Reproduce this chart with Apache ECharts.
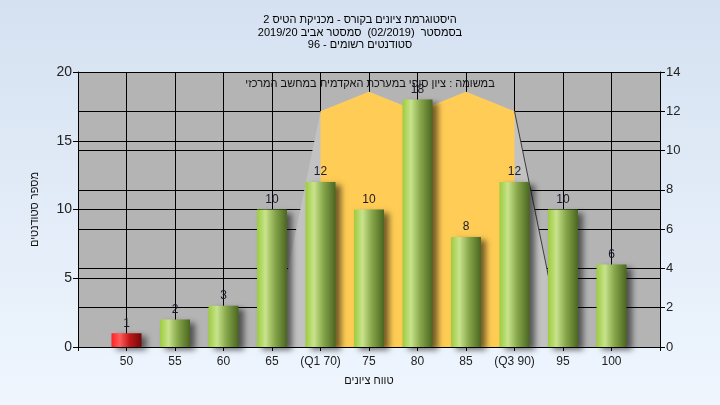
<!DOCTYPE html>
<html>
<head>
<meta charset="utf-8">
<script src="https://cdn.jsdelivr.net/npm/echarts@6/dist/echarts.min.js"></script>
<style>html,body{margin:0;padding:0;}#c{width:720px;height:405px;}</style>
</head>
<body>
<div id="c"></div>
<script>
const titleLines = ['היסטוגרמת ציונים בקורס - מכניקת הטיס 2', 'בסמסטר  (02/2019)  סמסטר אביב 2019/20', 'סטודנטים רשומים - 96'];
const noteText = 'במשומה : ציון סופי במערכת האקדמית במחשב המרכזי';
const xName = 'טווח ציונים';
const yName = 'מספר סטודנטים';
const categories = ['50', '55', '60', '65', '(Q1 70)', '75', '80', '85', '(Q3 90)', '95', '100'];
const counts = [1, 2, 3, 10, 12, 10, 18, 8, 12, 10, 6];
const failFlags = [true, false, false, false, false, false, false, false, false, false, false];
const whiskerArea = [null, null, null, 0, 12, 13, 12, 13, 12, 0, null];
const boxArea = [null, null, null, null, 12, 13, 12, 13, 12, null, null];
const whiskerLine = [null, null, null, null, null, null, null, null, 12, 0, null];
const leftTicks = [0, 5, 10, 15, 20];
const rightTicks = [0, 2, 4, 6, 8, 10, 12, 14];

const FONT = '"Liberation Sans", "DejaVu Sans", Arial, sans-serif';
const pad = arr => [null].concat(arr, [null]);
const axisCats = [''].concat(categories, ['']);

const greenGrad = new echarts.graphic.LinearGradient(0, 0, 1, 0, [
  {offset: 0, color: '#9ccc3e'},
  {offset: 0.28, color: '#c8e38c'},
  {offset: 0.6, color: '#86a64a'},
  {offset: 1, color: '#4a6620'}
]);
const redGrad = new echarts.graphic.LinearGradient(0, 0, 1, 0, [
  {offset: 0, color: '#ff2222'},
  {offset: 0.28, color: '#ff5c5c'},
  {offset: 0.6, color: '#c01818'},
  {offset: 1, color: '#760808'}
]);

const barData = pad(counts.map((v, i) => ({
  value: v,
  itemStyle: {color: failFlags[i] ? redGrad : greenGrad}
})));

const chart = echarts.init(document.getElementById('c'), null, {renderer: 'canvas'});
chart.setOption({
  animation: false,
  backgroundColor: new echarts.graphic.LinearGradient(0, 0, 0, 1, [
    {offset: 0, color: '#d5e1f1'},
    {offset: 1, color: '#eff6fe'}
  ]),
  title: {
    text: titleLines.join('\n'),
    left: 'center',
    top: 9,
    textStyle: {fontFamily: FONT, fontSize: 11, fontWeight: 'normal', color: '#000', lineHeight: 12.5}
  },
  graphic: [{
    type: 'text',
    x: 370,
    y: 78,
    z: 1,
    style: {text: noteText, font: '11px ' + FONT, fill: '#111', textAlign: 'center'}
  }],
  grid: {left: 78, right: 60, top: 72, bottom: 58, show: true, backgroundColor: '#b4b4b4', borderWidth: 0},
  xAxis: {
    type: 'category',
    data: axisCats,
    boundaryGap: false,
    name: xName,
    nameLocation: 'middle',
    nameGap: 28,
    nameTextStyle: {fontFamily: FONT, fontSize: 11, color: '#111'},
    axisLine: {lineStyle: {color: '#000', width: 1}},
    axisTick: {show: true, length: 4, lineStyle: {color: '#000'}},
    axisLabel: {fontFamily: FONT, fontSize: 12, color: '#222', margin: 9, interval: 0},
    splitLine: {show: true, lineStyle: {color: '#000', width: 1}}
  },
  yAxis: [{
    type: 'value',
    min: leftTicks[0],
    max: leftTicks[leftTicks.length - 1],
    interval: 5,
    position: 'left',
    name: yName,
    nameLocation: 'middle',
    nameGap: 38,
    nameTextStyle: {fontFamily: FONT, fontSize: 11, color: '#111'},
    axisLine: {show: true, lineStyle: {color: '#000'}},
    axisTick: {show: true, length: 5, lineStyle: {color: '#000'}},
    axisLabel: {fontFamily: FONT, fontSize: 14, color: '#222', margin: 6},
    splitLine: {show: true, lineStyle: {color: '#000', width: 1}}
  }, {
    type: 'value',
    min: rightTicks[0],
    max: rightTicks[rightTicks.length - 1],
    interval: 2,
    position: 'right',
    axisLine: {show: true, lineStyle: {color: '#000'}},
    axisTick: {show: true, length: 5, lineStyle: {color: '#000'}},
    axisLabel: {fontFamily: FONT, fontSize: 13, color: '#222', margin: 6},
    splitLine: {show: true, lineStyle: {color: '#000', width: 1}}
  }],
  series: [{
    type: 'line',
    yAxisIndex: 1,
    data: pad(whiskerArea),
    symbol: 'none',
    lineStyle: {width: 0, opacity: 0},
    areaStyle: {color: '#c2c2c2', opacity: 1},
    z: 2,
    silent: true
  }, {
    type: 'line',
    yAxisIndex: 1,
    data: pad(boxArea),
    symbol: 'none',
    lineStyle: {width: 0, opacity: 0},
    areaStyle: {color: '#ffcc55', opacity: 1},
    z: 3,
    silent: true
  }, {
    type: 'line',
    yAxisIndex: 1,
    data: pad(whiskerLine),
    symbol: 'none',
    lineStyle: {width: 1, color: '#3c3c3c'},
    z: 4,
    silent: true
  }, {
    type: 'bar',
    yAxisIndex: 0,
    data: barData,
    barWidth: 30,
    z: 5,
    itemStyle: {
      shadowColor: 'rgba(0,0,0,0.55)',
      shadowBlur: 6,
      shadowOffsetX: 5,
      shadowOffsetY: 3
    },
    label: {show: true, position: 'top', distance: 4, fontFamily: FONT, fontSize: 12, color: '#1a1a2a'}
  }]
});
</script>
</body>
</html>
